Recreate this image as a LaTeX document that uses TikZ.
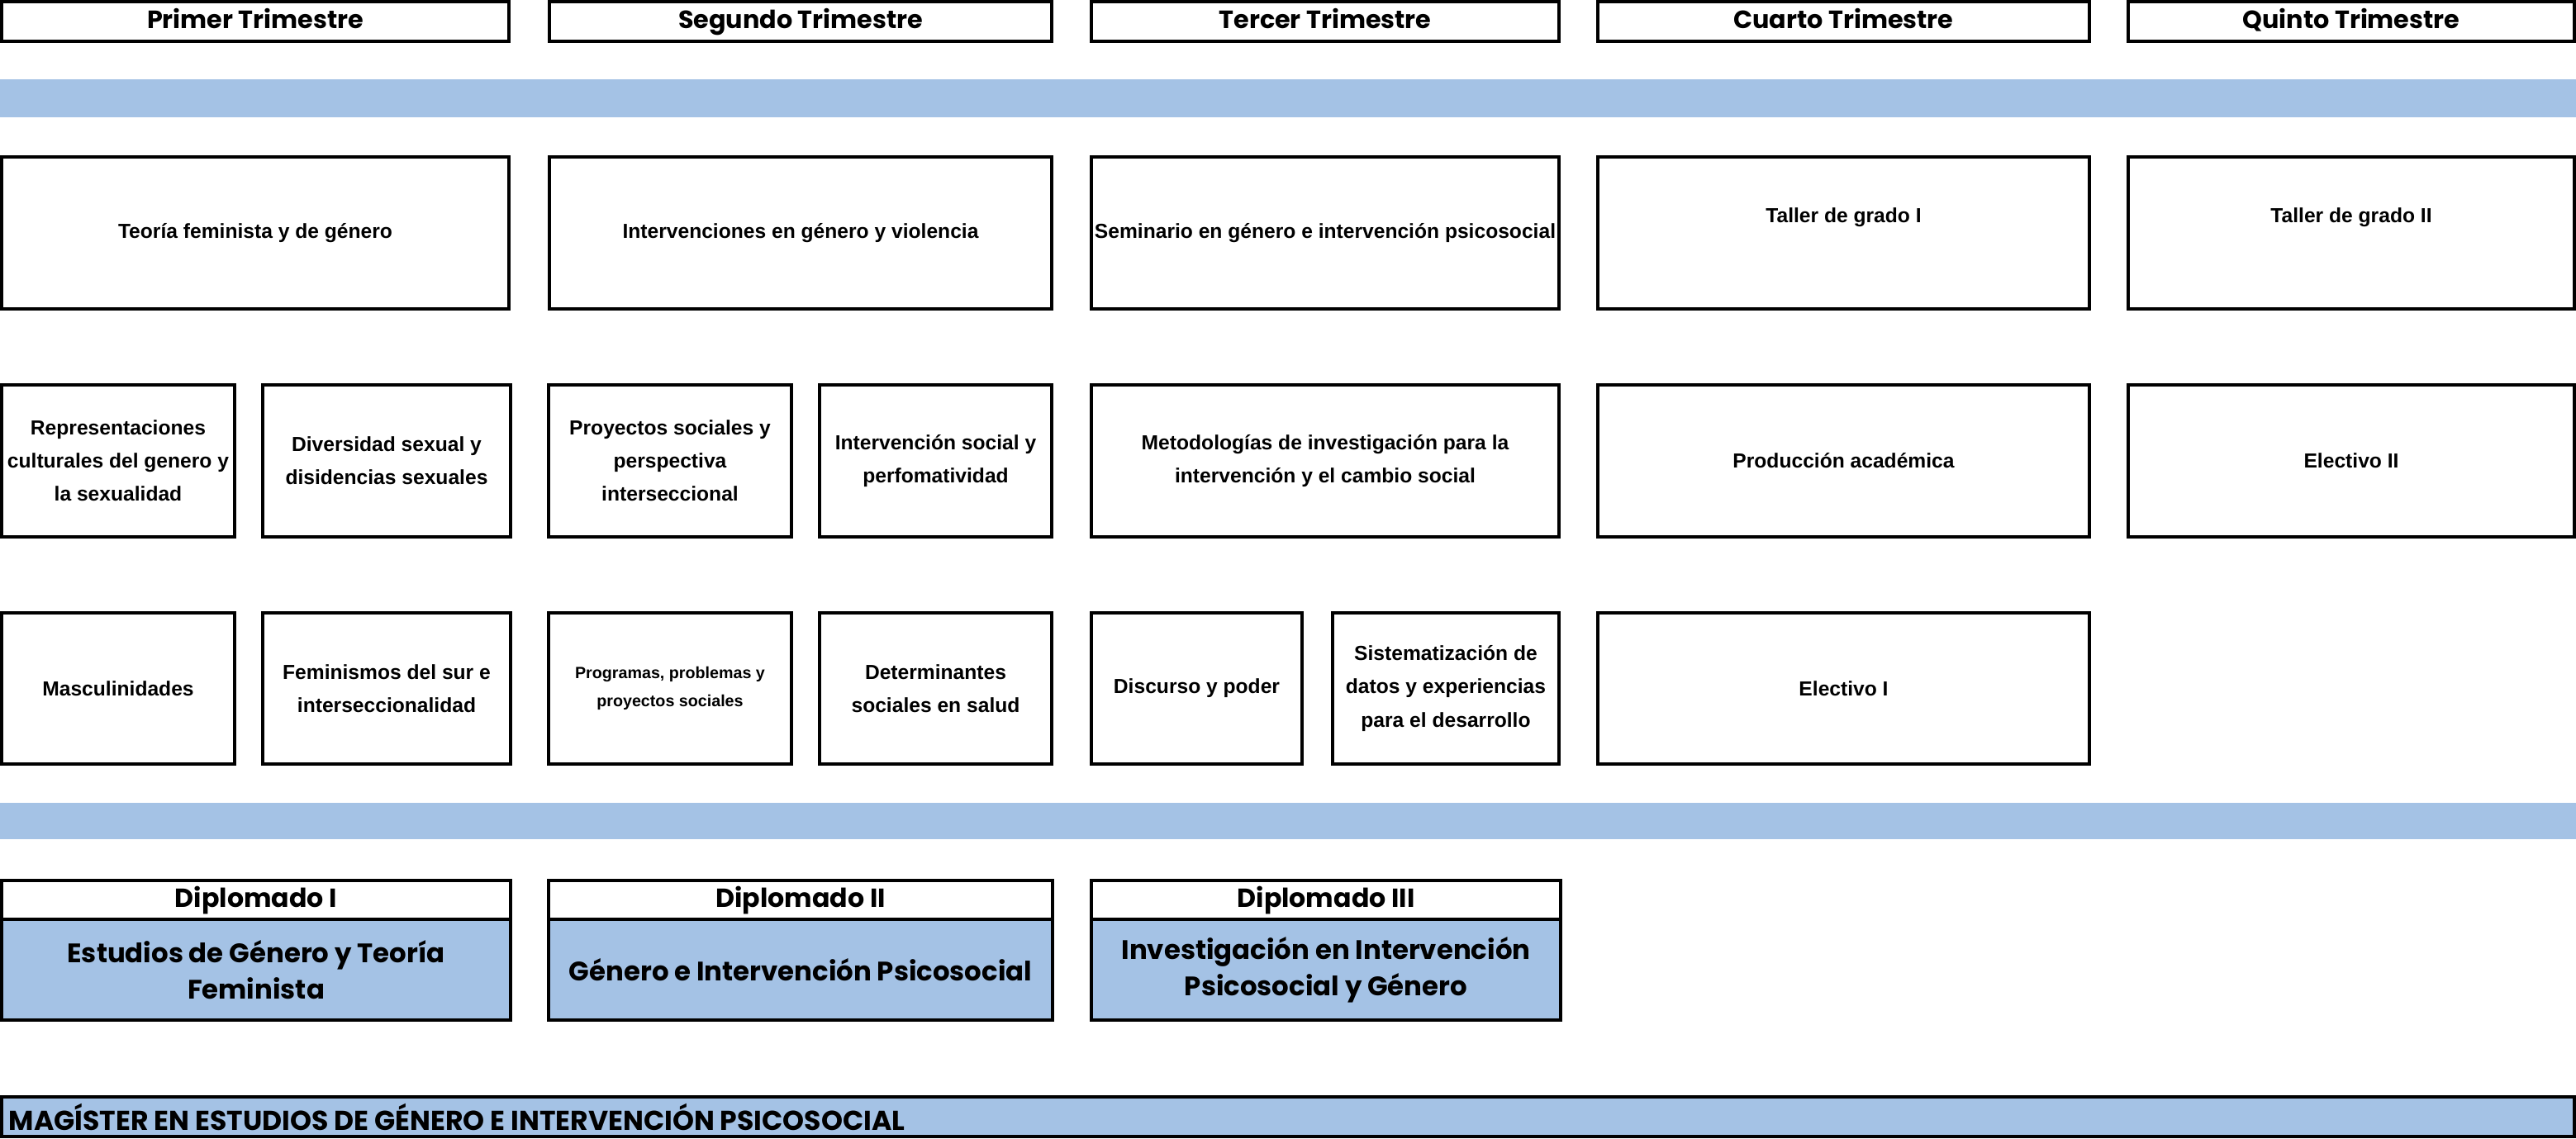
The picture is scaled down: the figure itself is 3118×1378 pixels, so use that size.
\documentclass[tikz,border=0pt]{standalone}
\usepackage{fontspec}
\setmainfont{Liberation Sans}
\newfontfamily\gothic{Poppins}
\definecolor{band}{RGB}{164,194,229}
\newcommand\cell[7][]{%
  \node[cellbox,#1,minimum width={(#5-#3-4)*0.01cm},minimum height={(#6-#4-4)*0.01cm}]
    (#2) at ({(#3+#5)/2},{(#4+#6)/2}) {#7};}
\begin{document}
\begin{tikzpicture}[x=0.01cm,y=-0.01cm,
  cellbox/.style={draw=black,line width=0.04cm,inner sep=0pt,align=center,
    font=\bfseries\fontsize{7}{11.4}\selectfont},
  headbox/.style={font=\gothic\bfseries\fontsize{8.6}{11}\selectfont,text height=0.72em,text depth=0.22em},
  diphead/.style={font=\gothic\bfseries\fontsize{9}{11}\selectfont,text height=0.72em,text depth=0.22em},
  dipbox/.style={fill=band,font=\gothic\bfseries\fontsize{9.2}{12.5}\selectfont},
  smalltext/.style={font=\bfseries\fontsize{5.6}{9.6}\selectfont}]
\useasboundingbox (0,0) rectangle (3118,1378);
% bands
\fill[band] (0,96) rectangle (3118,142);
\fill[band] (0,972) rectangle (3118,1016);
% headers
\cell[headbox]{h1}{0}{0}{618}{52}{Primer Trimestre}
\cell[headbox]{h2}{663}{0}{1275}{52}{Segundo Trimestre}
\cell[headbox]{h3}{1319}{0}{1889}{52}{Tercer Trimestre}
\cell[headbox]{h4}{1932}{0}{2531}{52}{Cuarto Trimestre}
\cell[headbox]{h5}{2574}{0}{3118}{52}{Quinto Trimestre}
% row 1
\cell{a1}{0}{188}{618}{376}{Teoría feminista y de género}
\cell{a2}{663}{188}{1275}{376}{Intervenciones en género y violencia}
\cell{a3}{1319}{188}{1889}{376}{Seminario en género e intervención psicosocial}
\cell{a4}{1932}{188}{2531}{376}{}
\cell{a5}{2574}{188}{3118}{376}{}
\node[font=\bfseries\fontsize{7}{11.4}\selectfont] (a4t) at ([yshift=0.19cm]a4.center) {Taller de grado I};
\node[font=\bfseries\fontsize{7}{11.4}\selectfont] (a5t) at ([yshift=0.19cm]a5.center) {Taller de grado II};
% row 2
\cell{b1}{0}{464}{286}{652}{Representaciones\\culturales del genero y\\la sexualidad}
\cell{b2}{316}{464}{620}{652}{Diversidad sexual y\\disidencias sexuales}
\cell{b3}{662}{464}{960}{652}{Proyectos sociales y\\perspectiva\\interseccional}
\cell{b4}{990}{464}{1275}{652}{Intervención social y\\perfomatividad}
\cell{b5}{1319}{464}{1889}{652}{Metodologías de investigación para la\\intervención y el cambio social}
\cell{b6}{1932}{464}{2531}{652}{Producción académica}
\cell{b7}{2574}{464}{3118}{652}{Electivo II}
% row 3
\cell{c1}{0}{740}{286}{927}{Masculinidades}
\cell{c2}{316}{740}{620}{927}{Feminismos del sur e\\interseccionalidad}
\cell[smalltext]{c3}{662}{740}{960}{927}{Programas, problemas y\\proyectos sociales}
\cell{c4}{990}{740}{1275}{927}{Determinantes\\sociales en salud}
\cell{c5}{1319}{740}{1578}{927}{Discurso y poder}
\cell{c6}{1611}{740}{1889}{927}{Sistematización de\\datos y experiencias\\para el desarrollo}
\cell{c7}{1932}{740}{2531}{927}{Electivo I}
% diplomados
\cell[diphead]{d1}{0}{1064}{620}{1115}{Diplomado I}
\cell[diphead]{d2}{662}{1064}{1276}{1115}{Diplomado II}
\cell[diphead]{d3}{1319}{1064}{1891}{1115}{Diplomado III}
\cell[dipbox]{e1}{0}{1111}{620}{1237}{Estudios de Género y Teoría\\Feminista}
\cell[dipbox]{e2}{662}{1111}{1276}{1237}{Género e Intervención Psicosocial}
\cell[dipbox]{e3}{1319}{1111}{1891}{1237}{Investigación en Intervención\\Psicosocial y Género}
% magister
\cell[fill=band]{m}{0}{1326}{3118}{1378}{}
\node[anchor=west,inner sep=0pt,font=\gothic\bfseries\fontsize{9.4}{11}\selectfont] (mt) at ([xshift=0.1cm]m.west) {MAGÍSTER EN ESTUDIOS DE GÉNERO E INTERVENCIÓN PSICOSOCIAL};
\end{tikzpicture}
\end{document}
